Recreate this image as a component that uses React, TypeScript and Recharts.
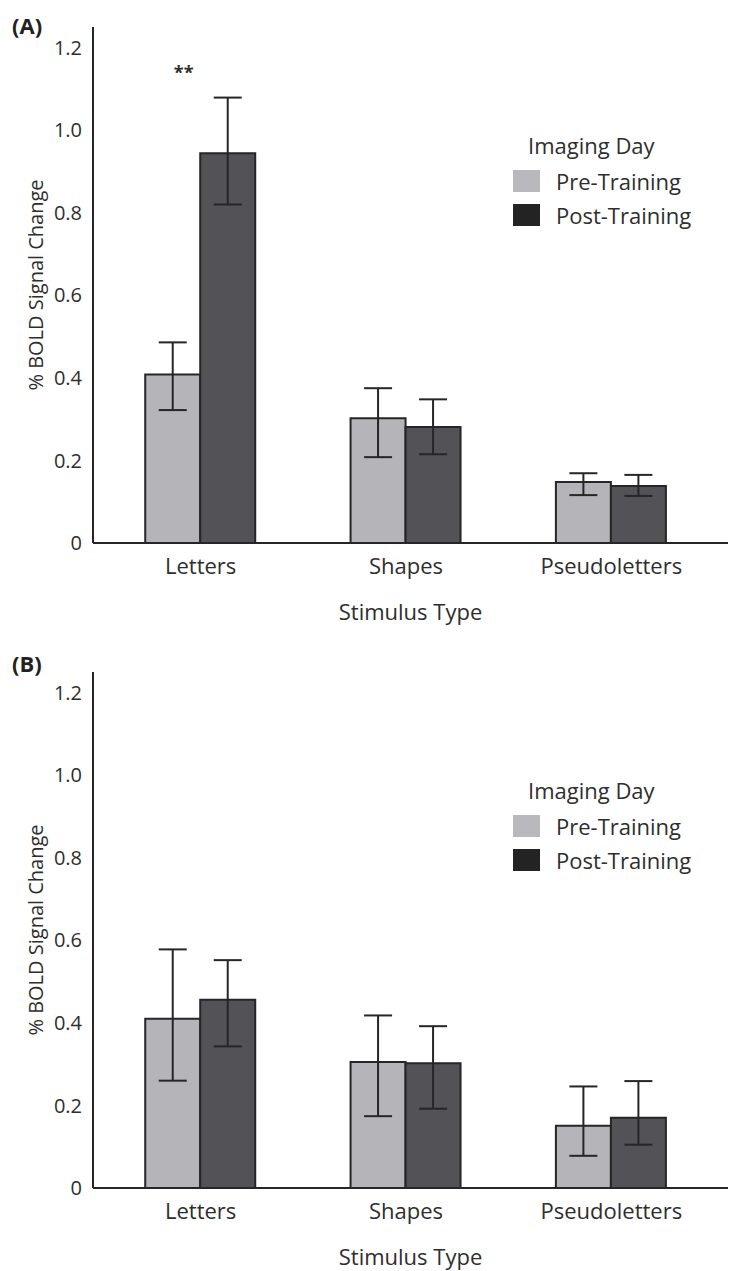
import React from 'react';
import { BarChart, Bar, XAxis, YAxis, ErrorBar, Legend, ReferenceDot, Label } from 'recharts';

const categories = ['Letters', 'Shapes', 'Pseudoletters'];
const seriesNames = ['Pre-Training', 'Post-Training'];
const yTicks = [0, 0.2, 0.4, 0.6, 0.8, 1.0, 1.2];

// Panel A
const preA = [0.408, 0.302, 0.148];
const preALow = [0.086, 0.094, 0.032];
const preAHigh = [0.078, 0.073, 0.021];
const postA = [0.944, 0.281, 0.138];
const postALow = [0.124, 0.066, 0.024];
const postAHigh = [0.135, 0.067, 0.027];

// Panel B
const preB = [0.41, 0.305, 0.151];
const preBLow = [0.15, 0.131, 0.073];
const preBHigh = [0.168, 0.113, 0.095];
const postB = [0.456, 0.302, 0.17];
const postBLow = [0.113, 0.11, 0.065];
const postBHigh = [0.096, 0.09, 0.089];

const FONT = '"Open Sans", "DejaVu Sans", sans-serif';
const TEXT = '#2e2e2e';
const barColors = ['#b4b4b9', '#535257'];
const legendColors = ['#b9b9bd', '#232323'];
const EDGE = '#262626';

const buildData = (
  pre: number[], preLow: number[], preHigh: number[],
  post: number[], postLow: number[], postHigh: number[]
) =>
  categories.map((c, i) => ({
    name: c,
    pre: pre[i],
    post: post[i],
    preErr: [preLow[i], preHigh[i]],
    postErr: [postLow[i], postHigh[i]],
  }));

const dataA = buildData(preA, preALow, preAHigh, postA, postALow, postAHigh);
const dataB = buildData(preB, preBLow, preBHigh, postB, postBLow, postBHigh);

const renderLegend = () => (
  <div style={{ fontFamily: FONT, color: TEXT, fontSize: 22 }}>
    <div style={{ marginLeft: 15, height: 38, lineHeight: '38px' }}>Imaging Day</div>
    {seriesNames.map((n, i) => (
      <div key={n} style={{ display: 'flex', alignItems: 'center', height: 34 }}>
        <span
          style={{ display: 'inline-block', width: 27, height: 22, background: legendColors[i], marginRight: 16 }}
        />
        <span style={{ lineHeight: '34px' }}>{n}</span>
      </div>
    ))}
  </div>
);

const YLabel = (props: any) => {
  const vb = props.viewBox;
  const x = vb.x - 8;
  const y = vb.y + vb.height / 2;
  return (
    <text
      x={x}
      y={y}
      transform={`rotate(-90, ${x}, ${y})`}
      textAnchor="middle"
      dominantBaseline="central"
      fontFamily={FONT}
      fontSize={20}
      fill={TEXT}
    >
      % BOLD Signal Change
    </text>
  );
};

type PanelProps = { data: any[]; height: number; stars?: boolean };

const Panel = ({ data, height, stars }: PanelProps) => (
  <BarChart
    width={732}
    height={height}
    data={data}
    margin={{ top: 27, right: 4, left: 43, bottom: height - 543 - 30 }}
    barCategoryGap="23%"
    barGap={0}
  >
    <XAxis
      dataKey="name"
      height={30}
      padding={{ left: 5, right: 14 }}
      axisLine={{ stroke: EDGE, strokeWidth: 2 }}
      tickLine={false}
      tickSize={0}
      tickMargin={15}
      tick={{ fontFamily: FONT, fontSize: 22, fill: TEXT }}
    >
      <Label
        value="Stimulus Type"
        position="bottom"
        offset={31}
        style={{ fontFamily: FONT, fontSize: 22, fill: TEXT }}
      />
    </XAxis>
    <YAxis
      width={50}
      domain={[0, 1.25]}
      ticks={yTicks}
      interval={0}
      axisLine={{ stroke: EDGE, strokeWidth: 2 }}
      tickLine={false}
      tickSize={0}
      tickMargin={11}
      tickFormatter={(v: number) => (v === 0 ? '0' : v.toFixed(1))}
      tick={{ fontFamily: FONT, fontSize: 20, fill: TEXT }}
    >
      <Label content={<YLabel />} />
    </YAxis>
    <Legend
      layout="vertical"
      align="center"
      verticalAlign="middle"
      content={renderLegend}
      wrapperStyle={{ left: 513, top: 126, width: 215 }}
    />
    <Bar dataKey="pre" name={seriesNames[0]} fill={barColors[0]} stroke={EDGE} strokeWidth={2} isAnimationActive={false}>
      <ErrorBar dataKey="preErr" width={14} stroke={EDGE} strokeWidth={2} direction="y" />
    </Bar>
    <Bar dataKey="post" name={seriesNames[1]} fill={barColors[1]} stroke={EDGE} strokeWidth={2} isAnimationActive={false}>
      <ErrorBar dataKey="postErr" width={14} stroke={EDGE} strokeWidth={2} direction="y" />
    </Bar>
    {stars && (
      <ReferenceDot
        x="Letters"
        y={1.14}
        r={0}
        fill="none"
        stroke="none"
        label={{ value: '**', position: 'center', dx: -17, fontFamily: FONT, fontSize: 18, fontWeight: 700, fill: TEXT }}
      />
    )}
  </BarChart>
);

export default function App() {
  return (
    <div style={{ position: 'absolute', left: 0, top: 0, width: 732, height: 1271, background: '#fff' }}>
      <div style={{ position: 'absolute', left: 0, top: 0 }}>
        <Panel data={dataA} height={645} stars />
      </div>
      <div style={{ position: 'absolute', left: 0, top: 645 }}>
        <Panel data={dataB} height={626} />
      </div>
      <div style={{ position: 'absolute', left: 12, top: 10, fontFamily: FONT, fontWeight: 700, fontSize: 22, color: '#222' }}>
        (A)
      </div>
      <div style={{ position: 'absolute', left: 12, top: 648, fontFamily: FONT, fontWeight: 700, fontSize: 22, color: '#222' }}>
        (B)
      </div>
    </div>
  );
}
